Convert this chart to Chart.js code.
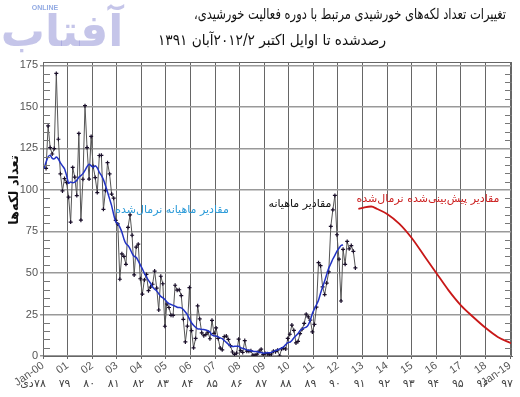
<!DOCTYPE html>
<html>
<head>
<meta charset="utf-8">
<script src="https://cdn.jsdelivr.net/npm/chart.js@4.4.0/dist/chart.umd.min.js"></script>
<style>
  html, body { margin: 0; padding: 0; background: #fff; }
  #wrap { width: 520px; height: 397px; }
</style>
</head>
<body>
<div id="wrap"><canvas id="sunChart" width="520" height="397"></canvas></div>
<script>
// monthly sunspot numbers, Feb 2000 .. Sep 2012
const monthlyStart = 2000 + 1 / 12;
const monthly = [
  112.9, 138.5, 125.5, 121.6, 124.9, 170.1, 130.5, 109.7, 99.4, 106.8, 104.4,
  95.6, 80.6, 113.5, 107.7, 96.6, 134.0, 81.8, 106.4, 150.7, 125.5, 106.5, 132.2,
  114.1, 107.4, 98.4, 120.7, 120.8, 88.3, 99.6, 116.4, 109.6, 97.5, 95.0, 81.6,
  79.5, 46.2, 61.5, 60.0, 55.2, 77.4, 85.0, 72.7, 48.8, 65.6, 67.3, 46.5,
  37.3, 45.8, 49.1, 39.3, 41.5, 43.2, 51.1, 40.9, 27.7, 48.0, 43.5, 17.9,
  31.3, 29.2, 24.5, 24.4, 42.6, 39.6, 39.9, 36.4, 22.1, 8.5, 18.0, 41.2,
  15.3, 4.9, 10.6, 30.2, 22.3, 13.9, 12.2, 12.9, 14.4, 10.4, 21.5, 13.6,
  16.9, 10.6, 4.8, 3.7, 11.7, 12.0, 10.0, 6.2, 2.4, 0.9, 1.7, 10.1,
  3.3, 2.1, 9.3, 2.9, 2.9, 3.1, 0.5, 0.5, 1.1, 2.9, 4.1, 0.8,
  1.5, 1.4, 0.7, 1.2, 2.9, 2.6, 3.5, 0.0, 4.2, 4.6, 4.2, 10.6,
  13.1, 18.6, 15.4, 7.9, 8.8, 13.5, 16.1, 19.6, 25.2, 23.5, 21.6, 14.5,
  19.0, 29.4, 56.2, 54.4, 41.6, 37.0, 43.9, 50.6, 78.0, 88.0, 96.7, 73.0,
  58.3, 33.1, 64.2, 55.2, 69.0, 64.5, 66.5, 63.0, 53.0
];

// smoothed monthly values, Jan 2000 .. Mar 2012
const smoothedStart = 2000;
const smoothed = [
  112.9, 116.8, 119.9, 120.8, 119.0, 118.7, 119.8, 118.6, 116.3, 114.5, 112.7, 108.7,
  104.0, 104.8, 104.3, 104.7, 105.8, 107.6, 108.6, 109.8, 111.7, 114.0, 115.5, 114.6,
  113.5, 114.6, 113.3, 110.5, 108.8, 106.2, 102.7, 98.7, 94.6, 90.5, 85.2, 80.8,
  79.7, 77.6, 74.6, 70.5, 67.6, 66.5, 64.5, 61.8, 60.0, 59.4, 57.3, 54.9,
  52.5, 49.7, 47.6, 45.5, 43.8, 41.6, 40.2, 39.2, 37.5, 35.9, 35.0, 34.0,
  32.5, 31.5, 31.0, 30.5, 30.0, 29.4, 29.2, 29.0, 28.0, 26.5, 24.8, 22.2,
  20.0, 18.5, 17.3, 16.3, 16.2, 16.0, 15.9, 15.6, 15.2, 14.4, 12.6, 12.1,
  12.1, 11.5, 10.9, 10.4, 9.3, 8.2, 7.0, 6.1, 5.7, 5.8, 5.8, 5.9,
  5.0, 4.6, 4.2, 3.7, 3.4, 3.2, 2.9, 2.7, 2.7, 2.3, 2.0, 1.7,
  1.8, 1.9, 1.9, 2.2, 2.8, 3.2, 3.6, 4.3, 4.8, 5.6, 6.9, 8.1,
  8.3, 9.4, 11.0, 12.2, 13.6, 15.3, 16.2, 16.9, 17.4, 18.8, 21.5, 25.6,
  28.3, 30.8, 33.5, 37.8, 41.6, 45.2, 49.1, 52.9, 55.5, 58.4, 60.6, 63.1,
  64.9, 66.5, 66.9
];

// predicted smoothed values
const predYears = [2012.83, 2013.08, 2013.35, 2013.6, 2014.0, 2014.5, 2015.0, 2015.5,
  2016.0, 2016.5, 2017.0, 2017.5, 2018.0, 2018.5, 2019.0, 2019.08];
const predValues = [88.5, 89.5, 90.0, 88.5, 85.5, 79.5, 71.0, 60.5,
  50.0, 39.5, 30.5, 23.5, 17.0, 11.5, 8.0, 7.5];

const yearTicks = [2000, 2001, 2002, 2003, 2004, 2005, 2006, 2007, 2008, 2009,
  2010, 2011, 2012, 2013, 2014, 2015, 2016, 2017, 2018, 2019];
const yearLabels = ["Jan-00", "01", "02", "03", "04", "05", "06", "07", "08", "09",
  "10", "11", "12", "13", "14", "15", "16", "17", "18", "Jan-19"];
const shamsiLabels = ["۷۸", "۷۹", "۸۰", "۸۱", "۸۲", "۸۳", "۸۴", "۸۵", "۸۶", "۸۷",
  "۸۸", "۸۹", "۹۰", "۹۱", "۹۲", "۹۳", "۹۴", "۹۵", "۹۶", "۹۷"];
const shamsiMonth = "دی";
const yMajor = [0, 25, 50, 75, 100, 125, 150, 175];

const titleLines = [
  "تغییرات تعداد لکه‌های خورشیدی مرتبط با دوره فعالیت خورشیدی،",
  "رصدشده تا اوایل اکتبر ۲۰۱۲/۲آبان ۱۳۹۱"
];

const FA = "'DejaVu Sans', sans-serif";

function monthPoints(start, values) {
  return values.map((v, i) => ({ x: start + (i + 0.5) / 12, y: v }));
}

// draw text at full height, squeezed sideways to a given width
function fitText(ctx, text, cx, cy, width, size) {
  ctx.save();
  ctx.font = size + "px " + FA;
  const w = ctx.measureText(text).width;
  const k = Math.min(1, width / w);
  ctx.translate(cx, cy);
  ctx.scale(k, 1);
  ctx.fillText(text, 0, 0);
  ctx.restore();
}

const decor = {
  id: "decor",
  beforeDraw(chart) {
    const ctx = chart.ctx;
    ctx.save();
    ctx.fillStyle = "rgba(150,150,215,0.55)";
    ctx.font = "bold 44px " + FA;
    ctx.direction = "rtl";
    ctx.textAlign = "center";
    ctx.fillText("آفتاب", 62, 46);
    ctx.direction = "ltr";
    ctx.font = "bold 7px 'Liberation Sans'";
    ctx.fillStyle = "rgba(120,150,220,0.8)";
    ctx.fillText("ONLINE", 45, 10);
    ctx.restore();
  },
  afterDraw(chart) {
    const { ctx, chartArea: a, scales } = chart;
    const xs = scales.x, ys = scales.y;
    ctx.save();
    ctx.strokeStyle = "#666";
    ctx.lineWidth = 1;
    ctx.strokeRect(a.left + 0.5, a.top + 0.5, a.right - a.left - 1, a.bottom - a.top);
    // minor ticks inside the frame
    ctx.strokeStyle = "#777";
    for (let v = 5; v < 177; v += 5) {
      if (v % 25 === 0) continue;
      const py = Math.round(ys.getPixelForValue(v)) + 0.5;
      ctx.beginPath();
      ctx.moveTo(a.left, py); ctx.lineTo(a.left + 7, py);
      ctx.moveTo(a.right - 7, py); ctx.lineTo(a.right, py);
      ctx.stroke();
    }
    // Persian year row
    ctx.direction = "rtl";
    ctx.fillStyle = "#444";
    ctx.font = "11px " + FA;
    ctx.textAlign = "center";
    ctx.textBaseline = "middle";
    yearTicks.forEach((yr, i) => {
      ctx.fillText(shamsiLabels[i], xs.getPixelForValue(yr) - 3, a.bottom + 28);
    });
    ctx.fillText(shamsiMonth, xs.getPixelForValue(yearTicks[0]) - 16, a.bottom + 28);
    // titles
    ctx.fillStyle = "#111";
    fitText(ctx, titleLines[0], 350, 15, 312, 15);
    fitText(ctx, titleLines[1], 272, 41, 228, 15);
    // series notes
    ctx.font = "11px " + FA;
    ctx.fillStyle = "#2a9ad8";
    ctx.fillText("مقادیر ماهیانه نرمال‌شده", 172, 210);
    ctx.fillStyle = "#111";
    ctx.fillText("مقادیر ماهیانه", 300, 204);
    ctx.fillStyle = "#cc1f1f";
    ctx.fillText("مقادیر پیش‌بینی‌شده نرمال‌شده", 428, 199);
    // y title
    ctx.translate(15, 190);
    ctx.rotate(-Math.PI / 2);
    ctx.fillStyle = "#111";
    ctx.font = "bold 13px " + FA;
    ctx.fillText("تعداد لکه‌ها", 0, 0);
    ctx.restore();
  }
};

new Chart(document.getElementById("sunChart"), {
  type: "line",
  data: {
    datasets: [
      {
        label: "smoothed",
        data: monthPoints(smoothedStart, smoothed),
        borderColor: "#2233c4",
        borderWidth: 1.5,
        pointRadius: 0,
        tension: 0.2
      },
      {
        label: "monthly",
        data: monthPoints(monthlyStart, monthly),
        borderColor: "#555",
        borderWidth: 1,
        pointStyle: "cross",
        pointRadius: 2,
        pointBorderColor: "#1a0f2a",
        pointBorderWidth: 1.2
      },
      {
        label: "predicted",
        data: predYears.map((yr, i) => ({ x: yr, y: predValues[i] })),
        borderColor: "#c81818",
        borderWidth: 1.8,
        pointRadius: 0,
        cubicInterpolationMode: "monotone"
      }
    ]
  },
  options: {
    responsive: false,
    animation: false,
    layout: { padding: { top: 62, right: 8, left: 0, bottom: 0 } },
    plugins: { legend: { display: false }, tooltip: { enabled: false } },
    scales: {
      x: {
        type: "linear",
        min: 2000,
        max: 2019.08,
        afterBuildTicks: s => { s.ticks = yearTicks.map(v => ({ value: v })); },
        afterFit: s => { s.height = 41; },
        grid: { color: "#666", lineWidth: 1, tickLength: 3 },
        border: { color: "#666" },
        ticks: {
          autoSkip: false,
          minRotation: 35,
          maxRotation: 35,
          padding: 0,
          color: "#555",
          font: { family: "'Liberation Sans'", size: 11 },
          callback: (v, i) => yearLabels[i]
        }
      },
      y: {
        min: 0,
        max: 177,
        afterBuildTicks: s => { s.ticks = yMajor.map(v => ({ value: v })); },
        afterFit: s => { s.width = 43; },
        grid: { color: "#999", lineWidth: 1.5, tickLength: 3 },
        border: { color: "#666" },
        ticks: {
          padding: 2,
          color: "#555",
          font: { family: "'Liberation Sans'", size: 11 }
        }
      }
    }
  },
  plugins: [decor]
});
</script>
</body>
</html>
